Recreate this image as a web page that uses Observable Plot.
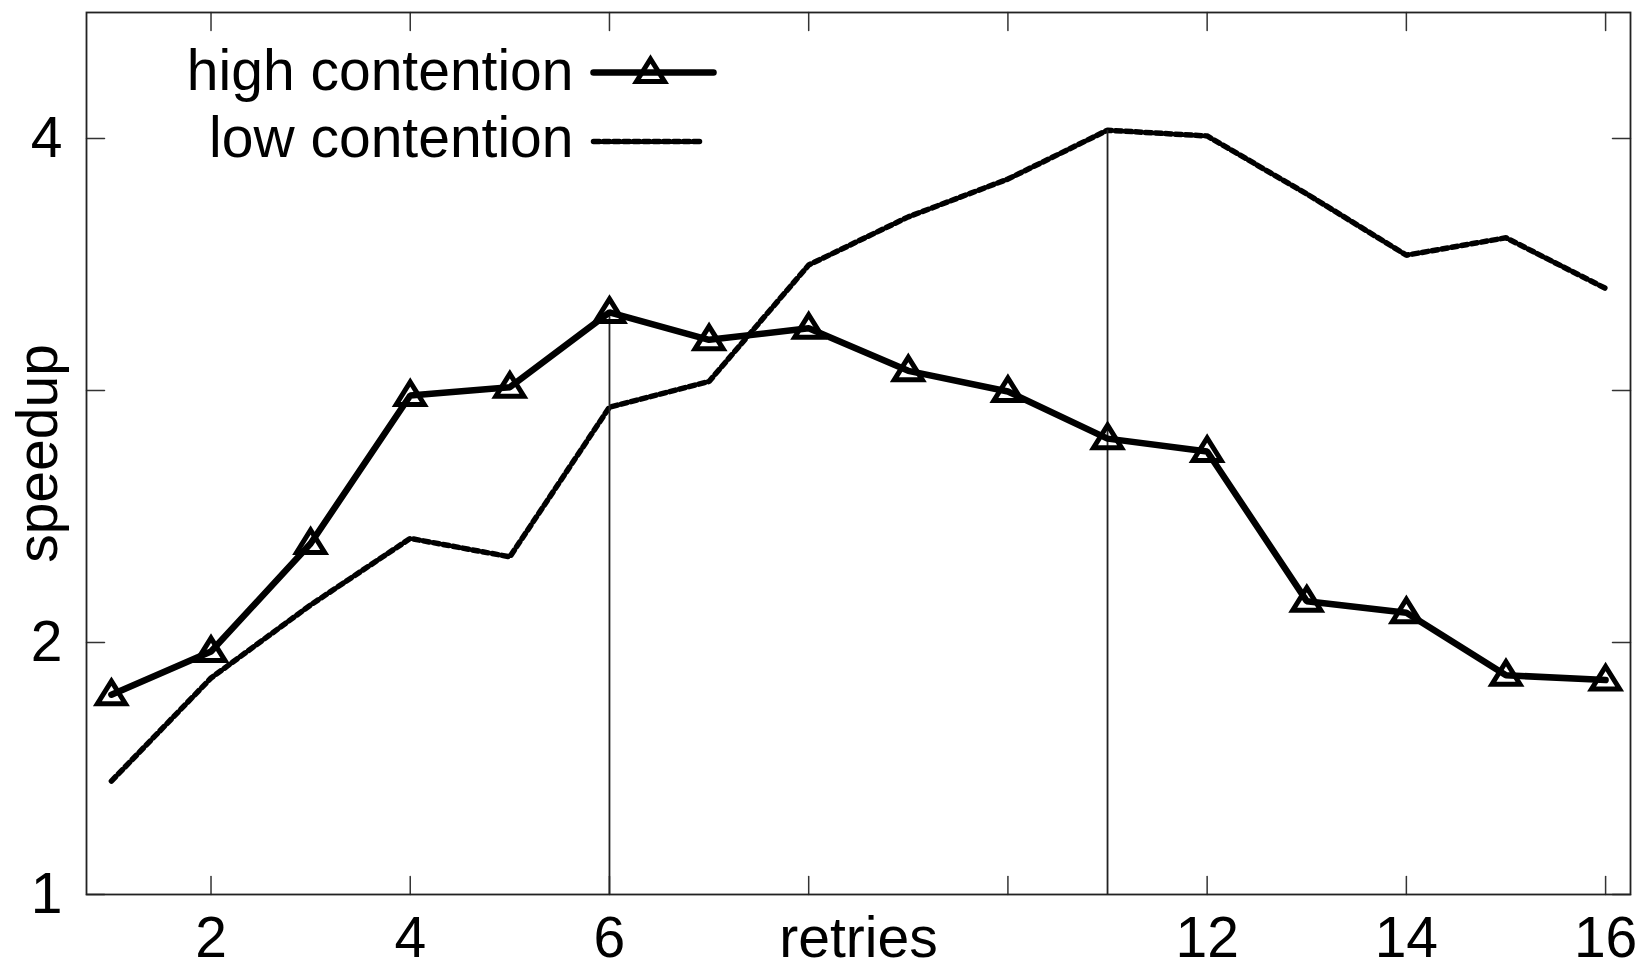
<!DOCTYPE html>
<html><head><meta charset="utf-8">
<script src="https://cdn.jsdelivr.net/npm/d3@7"></script>
<script src="https://cdn.jsdelivr.net/npm/@observablehq/plot@0.6"></script>
<style>html,body{margin:0;padding:0;background:#fff;} svg{display:block;}</style>
</head><body><div id="chart"></div>
<script>
const retries = [1, 2, 3, 4, 5, 6, 7, 8, 9, 10, 11, 12, 13, 14, 15, 16];
const highContention = [1.793, 1.964, 2.393, 2.980, 3.013, 3.310, 3.201, 3.247, 3.078, 2.996, 2.809, 2.758, 2.164, 2.118, 1.870, 1.851];
const lowContention = [1.450, 1.859, 2.149, 2.413, 2.340, 2.934, 3.036, 3.498, 3.689, 3.839, 4.033, 4.010, 3.780, 3.537, 3.606, 3.405];
const xTicks = [2, 4, 6, 8, 10, 12, 14, 16];
const xTickLabels = [2, 4, 6, 12, 14, 16];
const yTicks = [1, 2, 3, 4];
const yTickLabels = [1, 2, 4];
const seriesNames = ["high contention", "low contention"];
const peakRetries = [6, 11];
const xLabel = "retries";
const yLabel = "speedup";

const highData = retries.map((r, i) => ({retries: r, speedup: highContention[i]}));
const lowData = retries.map((r, i) => ({retries: r, speedup: lowContention[i]}));
const peaks = [
  {retries: peakRetries[0], speedup: highContention[retries.indexOf(peakRetries[0])]},
  {retries: peakRetries[1], speedup: lowContention[retries.indexOf(peakRetries[1])]}
];

const font = "'Liberation Sans', Arial, Helvetica, sans-serif";
const FS = 57;
const lineShape = {draw(ctx, l) { ctx.moveTo(0, 0); ctx.lineTo(0, -l); }};
const triangle = {draw(ctx) { ctx.moveTo(0, -13.5); ctx.lineTo(14, 9); ctx.lineTo(-14, 9); ctx.closePath(); }};
const dash = "6,4";
const tickStyle = {length: 18, anchor: "start", shape: lineShape, stroke: "#333", strokeWidth: 1.5};

const chart = Plot.plot({
  width: 1643, height: 968,
  marginLeft: 86, marginRight: 13, marginTop: 12, marginBottom: 74,
  style: {fontFamily: font, background: "#fff"},
  x: {domain: [0.75, 16.25], axis: null},
  y: {domain: [1, 4.5], axis: null},
  marks: [
    Plot.vector(xTicks, {x: d => d, frameAnchor: "bottom", rotate: 0, ...tickStyle}),
    Plot.vector(xTicks, {x: d => d, frameAnchor: "top", rotate: 180, ...tickStyle}),
    Plot.vector(yTicks, {y: d => d, frameAnchor: "left", rotate: 90, ...tickStyle}),
    Plot.vector(yTicks, {y: d => d, frameAnchor: "right", rotate: -90, ...tickStyle}),
    Plot.text(xTickLabels, {x: d => d, text: d => String(d), frameAnchor: "bottom", lineAnchor: "top", dy: 22, fontSize: FS, fill: "#000"}),
    Plot.text(yTickLabels, {y: d => d, text: d => String(d), frameAnchor: "left", textAnchor: "end", lineAnchor: "middle", dx: -24, fontSize: FS, fill: "#000"}),
    Plot.text([xLabel], {frameAnchor: "bottom", lineAnchor: "top", dy: 22, fontSize: FS, fill: "#000"}),
    Plot.text([yLabel], {frameAnchor: "left", textAnchor: "middle", rotate: -90, lineAnchor: "middle", dx: -48, fontSize: FS, fill: "#000"}),
    Plot.line(lowData, {x: "retries", y: "speedup", stroke: "#000", strokeWidth: 5.5, strokeDasharray: dash, strokeLinejoin: "miter"}),
    Plot.ruleX(peaks, {x: "retries", y1: 1, y2: "speedup", stroke: "#222", strokeWidth: 1.8}),
    Plot.line(highData, {x: "retries", y: "speedup", stroke: "#000", strokeWidth: 6.5, strokeLinejoin: "miter"}),
    Plot.dot(highData, {x: "retries", y: "speedup", symbol: triangle, r: 10, fill: "none", stroke: "#000", strokeWidth: 5, strokeLinejoin: "miter"}),
    // legend
    Plot.text([seriesNames[0]], {frameAnchor: "top-left", dx: 487, dy: 37, textAnchor: "end", lineAnchor: "top", fontSize: FS, fill: "#000"}),
    Plot.text([seriesNames[1]], {frameAnchor: "top-left", dx: 487, dy: 104, textAnchor: "end", lineAnchor: "top", fontSize: FS, fill: "#000"}),
    Plot.vector([0], {frameAnchor: "top-left", dx: 507, dy: 60, rotate: 90, length: 120, anchor: "start", shape: lineShape, stroke: "#000", strokeWidth: 6.5}),
    Plot.dot([0], {frameAnchor: "top-left", dx: 564, dy: 60, symbol: triangle, r: 10, fill: "none", stroke: "#000", strokeWidth: 5, strokeLinejoin: "miter"}),
    Plot.vector([0], {frameAnchor: "top-left", dx: 507, dy: 129, rotate: 90, length: 110, anchor: "start", shape: lineShape, stroke: "#000", strokeWidth: 5.5, strokeDasharray: dash}),
    Plot.frame({stroke: "#222", strokeWidth: 1.8})
  ]
});
document.getElementById("chart").appendChild(chart);
</script>
</body></html>
